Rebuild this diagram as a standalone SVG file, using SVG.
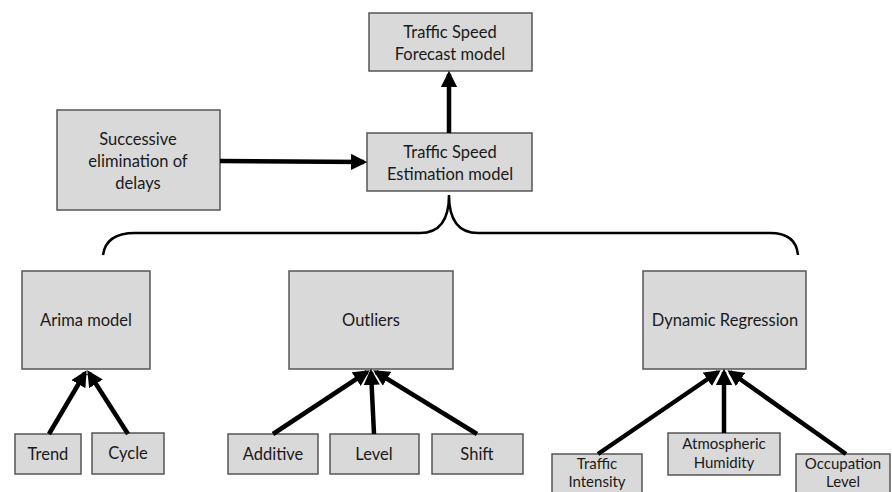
<svg xmlns="http://www.w3.org/2000/svg" width="892" height="492" viewBox="0 0 892 492">
<style>
.box{fill:#d9d9d9;stroke:#555;stroke-width:1.5}
.t{font-family:Lato,"Open Sans","Liberation Sans",sans-serif;font-size:16.5px;fill:#1a1a1a;text-anchor:middle}
.s{font-size:15px}
.c{stroke:#000;stroke-width:4.5;fill:none}
.brace{stroke:#000;stroke-width:2.5;fill:none}
</style>
<defs>
<marker id="ah" viewBox="0 0 10 10" refX="8" refY="5" markerWidth="3.6" markerHeight="3.6" orient="auto" markerUnits="strokeWidth">
<path d="M0,0 L10,5 L0,10 z" fill="#000"/>
</marker>
</defs>
<rect width="892" height="492" fill="#fff"/>
<g id="forecast"><rect class="box" x="369" y="13" width="163" height="58"/><text class="t" x="450" y="38">Traffic Speed</text><text class="t" x="450" y="60">Forecast model</text></g>
<g id="estimation"><rect class="box" x="367" y="133" width="165" height="58"/><text class="t" x="450" y="158">Traffic Speed</text><text class="t" x="450" y="180">Estimation model</text></g>
<g id="successive"><rect class="box" x="57" y="110" width="163" height="100"/><text class="t" x="138" y="145">Successive</text><text class="t" x="138" y="167">elimination of</text><text class="t" x="138" y="189">delays</text></g>
<g id="arima"><rect class="box" x="22" y="271" width="128" height="98"/><text class="t" x="86" y="326">Arima model</text></g>
<g id="outliers"><rect class="box" x="289" y="271" width="164" height="98"/><text class="t" x="371" y="326">Outliers</text></g>
<g id="dynamic"><rect class="box" x="643" y="271" width="163" height="98"/><text class="t" x="725" y="326">Dynamic Regression</text></g>
<g id="trend"><rect class="box" x="15" y="434" width="66" height="40"/><text class="t" x="48" y="460">Trend</text></g>
<g id="cycle"><rect class="box" x="92" y="433" width="72" height="41"/><text class="t" x="128" y="459">Cycle</text></g>
<g id="additive"><rect class="box" x="228" y="434" width="90" height="40"/><text class="t" x="273" y="460">Additive</text></g>
<g id="level"><rect class="box" x="330" y="434" width="89" height="40"/><text class="t" x="374" y="460">Level</text></g>
<g id="shift"><rect class="box" x="432" y="434" width="91" height="40"/><text class="t" x="477" y="460">Shift</text></g>
<g id="intensity"><rect class="box" x="552" y="454" width="90" height="45"/><text class="t s" x="597" y="469">Traffic</text><text class="t s" x="597" y="487">Intensity</text></g>
<g id="humidity"><rect class="box" x="668" y="433" width="112" height="42"/><text class="t s" x="724" y="449">Atmospheric</text><text class="t s" x="724" y="468">Humidity</text></g>
<g id="occupation"><rect class="box" x="796" y="454" width="94" height="45"/><text class="t s" x="843" y="469">Occupation</text><text class="t s" x="843" y="487">Level</text></g>
<g id="connectors">
<line class="c" x1="449" y1="133" x2="449" y2="74" marker-end="url(#ah)"/>
<line class="c" x1="220" y1="161" x2="364" y2="162" marker-end="url(#ah)"/>
<path class="brace" d="M103,255 Q106,233 135,233 L420,233 Q449,233 449,195 Q449,233 478,233 L770,233 Q796,233 798,255"/>
<line class="c" x1="49" y1="434" x2="85" y2="373" marker-end="url(#ah)"/>
<line class="c" x1="128" y1="434" x2="89" y2="373" marker-end="url(#ah)"/>
<line class="c" x1="273" y1="434" x2="367" y2="372" marker-end="url(#ah)"/>
<line class="c" x1="374" y1="434" x2="371" y2="372" marker-end="url(#ah)"/>
<line class="c" x1="477" y1="434" x2="376" y2="372" marker-end="url(#ah)"/>
<line class="c" x1="598" y1="454" x2="718" y2="372" marker-end="url(#ah)"/>
<line class="c" x1="724" y1="433" x2="724" y2="372" marker-end="url(#ah)"/>
<line class="c" x1="846" y1="454" x2="730" y2="372" marker-end="url(#ah)"/>
</g>
</svg>
